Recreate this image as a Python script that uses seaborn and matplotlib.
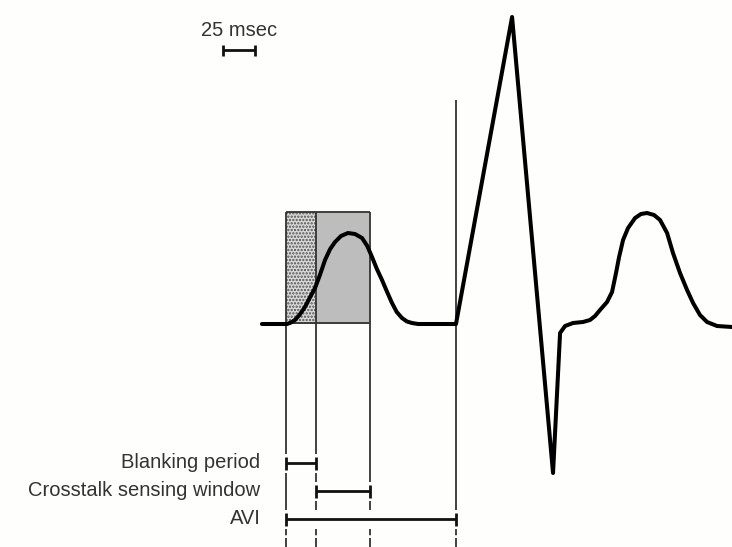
import numpy as np
import pandas as pd
import matplotlib
matplotlib.use("Agg")
import matplotlib.pyplot as plt
import seaborn as sns

# ECG trace: time in msec (0 = atrial pace), amplitude in arbitrary units
ecg_time = [-18.8, 0.8, 4.0, 7.0, 10.5, 14.8, 18.5, 22.7, 26.5, 30.5, 34.5, 38.3, 43.0, 48.4,
            53.9, 59.4, 63.5, 67.2, 71.0, 75.0, 79.0, 82.8, 86.5, 90.6, 94.5, 98.4, 103.1,
            132.8, 176.6, 208.6, 214.1, 218.0, 224.2, 232.0, 237.5, 241.4, 245.3, 250.8,
            254.7, 257.8, 260.2, 263.3, 267.2, 272.7, 277.3, 282.0, 287.5, 292.2, 297.7,
            302.3, 307.8, 313.3, 318.0, 323.4, 328.9, 336.7, 348.4]
ecg_amp = [0.0, 0.0, 0.015, 0.04, 0.09, 0.17, 0.26, 0.36, 0.49, 0.64, 0.75, 0.82, 0.88, 0.91,
           0.90, 0.86, 0.78, 0.67, 0.55, 0.44, 0.32, 0.21, 0.12, 0.06, 0.025, 0.01, 0.0,
           0.0, 3.07, -1.49, -0.09, -0.02, 0.01, 0.02, 0.04, 0.08, 0.14, 0.22,
           0.32, 0.51, 0.67, 0.84, 0.96, 1.06, 1.10, 1.11, 1.09, 1.04, 0.91,
           0.71, 0.51, 0.34, 0.21, 0.09, 0.02, -0.02, -0.03]

# timing intervals (msec)
blanking = (0.0, 23.5)
xtalk_window = (23.5, 65.5)
avi = (0.0, 132.8)
interval_labels = ["Blanking period", "Crosstalk sensing window", "AVI"]
interval_spans = [blanking, xtalk_window, avi]
scale_ms = 25
scale_label = "25 msec"

df = pd.DataFrame({"time": ecg_time, "amp": ecg_amp})

sns.set_theme(style="white")
plt.rcParams["font.family"] = ["Liberation Sans", "DejaVu Sans"]

fig = plt.figure(figsize=(7.32, 5.47), dpi=100, facecolor="#fefefc")
ax = fig.add_axes([0, 0, 1, 1])
ax.set_facecolor("#fefefc")
ax.set_xlim(-223.4, 348.4)
ax.set_ylim(-2.23, 3.24)
ax.axis("off")

box_top = 1.12
line_col = "#333333"

# shaded boxes: blanking (dotted) and crosstalk window (grey)
plt.rcParams["hatch.linewidth"] = 1.1
ax.fill_between(list(blanking), 0, box_top, facecolor="#d8d8d8", hatch=".....",
                edgecolor="#505050", linewidth=0, zorder=1)
ax.fill_between(list(xtalk_window), 0, box_top, facecolor="#bdbdbd", linewidth=0, zorder=1)
ax.hlines([box_top, 0.015], blanking[0], xtalk_window[1], color=line_col, lw=1.3, zorder=2)

# interval bars with end caps
row_y = [-1.39, -1.67, -1.95]
cap = 0.065
for (t0, t1), y in zip(interval_spans, row_y):
    ax.hlines(y, t0, t1, color="#111111", lw=2.0, zorder=3)
    ax.vlines([t0, t1], y - cap, y + cap, color="#111111", lw=2.0, zorder=3)

# vertical marker lines, broken where they meet a bar row
markers = [(blanking[0], box_top), (blanking[1], box_top), (xtalk_window[1], box_top), (avi[1], 2.24)]
gap = 0.095
bottom = -2.23
for xm, top in markers:
    breaks = [y for (t0, t1), y in zip(interval_spans, row_y) if t0 - 0.5 <= xm <= t1 + 0.5]
    start = top
    for y in sorted(breaks, reverse=True):
        ax.vlines(xm, y + gap, start, color=line_col, lw=1.3, zorder=2)
        start = y - gap
    ax.vlines(xm, bottom, start, color=line_col, lw=1.3, zorder=2, linestyles=(0, (5, 1.5)))

# ECG trace
sns.lineplot(data=df, x="time", y="amp", sort=False, estimator=None, color="black",
             lw=2.9, ax=ax, zorder=4, solid_joinstyle="round", solid_capstyle="round")
ax.set_xlabel("")
ax.set_ylabel("")

# labels
for label, y in zip(interval_labels, row_y):
    ax.text(-20.0, y, label, ha="right", va="center", fontsize=14.5, color="#333333")

# 25 msec scale bar
sb_x0, sb_y = -49.2, 2.74
ax.hlines(sb_y, sb_x0, sb_x0 + scale_ms, color="#111111", lw=2.0)
ax.vlines([sb_x0, sb_x0 + scale_ms], sb_y - 0.055, sb_y + 0.055, color="#111111", lw=2.0)
ax.text(sb_x0 + scale_ms / 2, 2.94, scale_label, ha="center", va="center",
        fontsize=14.5, color="#333333")

fig.savefig("out.png", dpi=100, facecolor=fig.get_facecolor())
